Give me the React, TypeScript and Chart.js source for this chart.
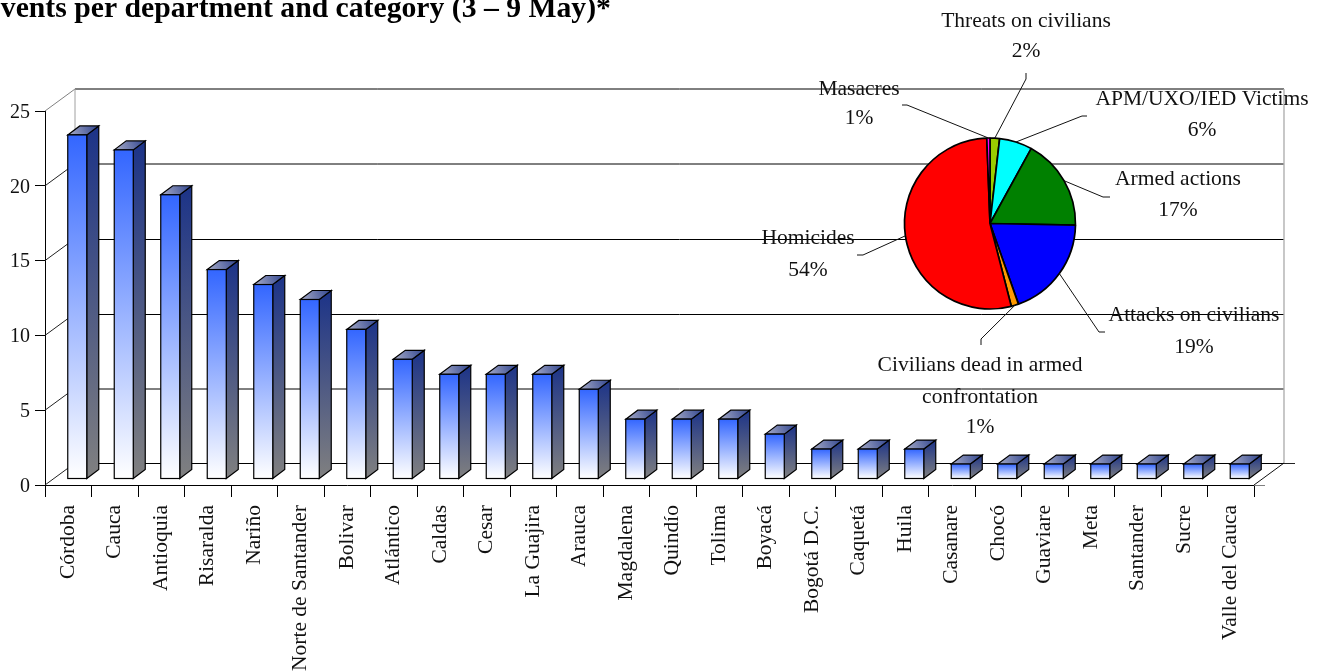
import React, { useEffect, useRef } from "react";
import { Chart, registerables } from "chart.js";

Chart.register(...registerables);

const departments = ["Córdoba", "Cauca", "Antioquia", "Risaralda", "Nariño", "Norte de Santander", "Bolivar", "Atlántico", "Caldas", "Cesar", "La Guajira", "Arauca", "Magdalena", "Quindío", "Tolima", "Boyacá", "Bogotá D.C.", "Caquetá", "Huila", "Casanare", "Chocó", "Guaviare", "Meta", "Santander", "Sucre", "Valle del Cauca"];
const eventCounts = [23, 22, 19, 14, 13, 12, 10, 8, 7, 7, 7, 6, 4, 4, 4, 3, 2, 2, 2, 1, 1, 1, 1, 1, 1, 1];
const yTicks = [0, 5, 10, 15, 20, 25];

const pieCategories = ["Threats on civilians", "APM/UXO/IED Victims", "Armed actions", "Attacks on civilians", "Civilians dead in armed confrontation", "Homicides", "Masacres"];
const pieShares = [1.8, 6.2, 17.3, 19.3, 1.4, 53.4, 0.6];
const piePercentLabels = ["2%", "6%", "17%", "19%", "1%", "54%", "1%"];
const pieColors = ["#99cc00", "#00ffff", "#008000", "#0000ff", "#ff9900", "#ff0000", "#ff00ff"];

const titleText = "Events per department and category (3 – 9 May)*";
const FONT = '"Liberation Serif", serif';

const W = 1327, H = 672;
const PLOT = { left: 45, right: 1254, top: 111, bottom: 485 };
const DEPTH = { x: 30, y: -22 };
const BAR_FRONT = { x: 9, y: -6 };
const BAR_SIDE = { x: 12, y: -9 };
const PIE = { x: 990, y: 223.5, r: 85.5 };

// label layout of the pie: text centre lines and leader elbow (elbow, stub end)
const pieLabelLayout = [
  { x: 1026, lines: [21, 51], text: ["Threats on civilians"], elbow: [1026, 79], end: [1026, 73] },
  { x: 1202, lines: [99, 130], text: ["APM/UXO/IED Victims"], elbow: [1082, 116], end: [1087, 116] },
  { x: 1178, lines: [179, 210], text: ["Armed actions"], elbow: [1103, 197], end: [1110, 197] },
  { x: 1194, lines: [315, 347], text: ["Attacks on civilians"], elbow: [1099, 332], end: [1105, 332] },
  { x: 980, lines: [365, 397, 427], text: ["Civilians dead in armed", "confrontation"], elbow: [981, 339], end: [981, 345] },
  { x: 808, lines: [238, 270], text: ["Homicides"], elbow: [863, 255], end: [857, 255] },
  { x: 859, lines: [89, 118], text: ["Masacres"], elbow: [907, 105], end: [902, 105] },
];

function line(ctx: CanvasRenderingContext2D, x1: number, y1: number, x2: number, y2: number, color: string, w = 1) {
  ctx.strokeStyle = color;
  ctx.lineWidth = w;
  ctx.beginPath();
  ctx.moveTo(x1, y1);
  ctx.lineTo(x2, y2);
  ctx.stroke();
}

const wallsPlugin = {
  id: "walls",
  beforeDatasetsDraw(chart: any) {
    const { ctx, scales } = chart;
    const { left, right, top, bottom } = chart.chartArea;
    const y = scales.y;
    ctx.save();
    yTicks.forEach((t) => {
      const py = y.getPixelForValue(t);
      const straddles = t === 25 || t === 20 || t === 5;
      const by = Math.round(py + DEPTH.y + 0.4) + (straddles ? 0 : 0.5);
      line(ctx, left, py, left + DEPTH.x, py + DEPTH.y, t === 25 ? "#808080" : "#222", 1);
      line(ctx, left + DEPTH.x, by, right + DEPTH.x, by, "#000", 1);
    });
    line(ctx, left + DEPTH.x, top + DEPTH.y, left + DEPTH.x, bottom + DEPTH.y, "#a0a0a0", 1);
    line(ctx, right + DEPTH.x, top + DEPTH.y, right + DEPTH.x, bottom + DEPTH.y, "#b0b0b0", 1.4);
    line(ctx, right, bottom, right + DEPTH.x, bottom + DEPTH.y, "#111", 1);
    line(ctx, right + DEPTH.x, bottom + DEPTH.y + 0.5, right + DEPTH.x + 11, bottom + DEPTH.y + 0.5, "#222", 1);
    line(ctx, right, bottom + 0.5, right + 11, bottom + 0.5, "#808080", 1);
    ctx.restore();
  },
};

const bars3dPlugin = {
  id: "bars3d",
  afterDatasetsDraw(chart: any) {
    const { ctx } = chart;
    const meta = chart.getDatasetMeta(0);
    ctx.save();
    ctx.lineJoin = "miter";
    meta.data.forEach((bar: any) => {
      const l = bar.x - bar.width / 2 + BAR_FRONT.x;
      const r = bar.x + bar.width / 2 + BAR_FRONT.x;
      const t = bar.y + BAR_FRONT.y;
      const b = bar.base + BAR_FRONT.y;
      const dx = BAR_SIDE.x, dy = BAR_SIDE.y;

      const front = ctx.createLinearGradient(0, t, 0, b);
      front.addColorStop(0, "#3366ff");
      front.addColorStop(1, "#ffffff");
      const side = ctx.createLinearGradient(0, t + dy, 0, b);
      side.addColorStop(0, "#1c3388");
      side.addColorStop(1, "#808080");
      const topFace = ctx.createLinearGradient(l, t, r + dx, t + dy);
      topFace.addColorStop(0, "#a9adc8");
      topFace.addColorStop(1, "#2f448f");

      ctx.strokeStyle = "#000";
      ctx.lineWidth = 1.2;

      ctx.fillStyle = side;
      ctx.beginPath();
      ctx.moveTo(r, t);
      ctx.lineTo(r + dx, t + dy);
      ctx.lineTo(r + dx, b + dy);
      ctx.lineTo(r, b);
      ctx.closePath();
      ctx.fill();
      ctx.stroke();

      ctx.fillStyle = topFace;
      ctx.beginPath();
      ctx.moveTo(l, t);
      ctx.lineTo(l + dx, t + dy);
      ctx.lineTo(r + dx, t + dy);
      ctx.lineTo(r, t);
      ctx.closePath();
      ctx.fill();
      ctx.stroke();

      ctx.fillStyle = front;
      ctx.fillRect(l, t, r - l, b - t);
      ctx.strokeRect(l, t, r - l, b - t);
    });
    ctx.restore();
  },
};

const titlePlugin = {
  id: "clippedTitle",
  afterDraw(chart: any) {
    const { ctx } = chart;
    ctx.save();
    ctx.font = `bold 29.7px ${FONT}`;
    ctx.fillStyle = "#000";
    ctx.textAlign = "left";
    ctx.textBaseline = "alphabetic";
    ctx.fillText(titleText, -19, 17);
    ctx.restore();
  },
};

const pieLabelsPlugin = {
  id: "pieLabels",
  afterDraw(chart: any) {
    const { ctx } = chart;
    const meta = chart.getDatasetMeta(0);
    ctx.save();
    ctx.font = `21.5px ${FONT}`;
    ctx.fillStyle = "#111";
    ctx.textAlign = "center";
    ctx.textBaseline = "middle";
    meta.data.forEach((arc: any, i: number) => {
      const layout = pieLabelLayout[i];
      const mid = (arc.startAngle + arc.endAngle) / 2;
      const sx = arc.x + Math.cos(mid) * arc.outerRadius;
      const sy = arc.y + Math.sin(mid) * arc.outerRadius;
      ctx.strokeStyle = "#111";
      ctx.lineWidth = 1;
      ctx.beginPath();
      ctx.moveTo(sx, sy);
      ctx.lineTo(layout.elbow[0], layout.elbow[1]);
      ctx.lineTo(layout.end[0], layout.end[1]);
      ctx.stroke();
      const rows = [...layout.text, piePercentLabels[i]];
      rows.forEach((row, k) => ctx.fillText(row, layout.x, layout.lines[k]));
    });
    ctx.restore();
  },
};

export default function App() {
  const barRef = useRef<HTMLCanvasElement>(null);
  const pieRef = useRef<HTMLCanvasElement>(null);

  useEffect(() => {
    const barChart = new Chart(barRef.current!, {
      type: "bar",
      data: {
        labels: departments,
        datasets: [{ label: "Events", data: eventCounts, backgroundColor: "rgba(0,0,0,0)", borderWidth: 0, barThickness: 19 }],
      },
      plugins: [wallsPlugin, bars3dPlugin, titlePlugin],
      options: {
        responsive: false,
        animation: false,
        devicePixelRatio: 1,
        layout: { padding: { left: 0, top: PLOT.top, right: W - PLOT.right, bottom: 0 } },
        plugins: { legend: { display: false }, tooltip: { enabled: false }, title: { display: false } },
        scales: {
          x: {
            afterFit(s: any) {
              s.height = H - PLOT.bottom;
              s.paddingLeft = 0;
              s.paddingRight = 0;
            },
            grid: { drawOnChartArea: false, tickLength: 12, color: "#000", offset: true },
            border: { color: "#000" },
            ticks: { autoSkip: false, minRotation: 90, maxRotation: 90, padding: 8, color: "#111", font: { family: FONT, size: 21.5 } },
          },
          y: {
            min: 0,
            max: 25,
            afterFit(s: any) {
              s.width = PLOT.left;
              s.paddingTop = 0;
              s.paddingBottom = 0;
            },
            afterBuildTicks(s: any) {
              s.ticks = yTicks.map((value) => ({ value }));
            },
            grid: { drawOnChartArea: false, tickLength: 10, color: "#000" },
            border: { color: "#000" },
            ticks: { padding: 5, labelOffset: 1.5, color: "#111", font: { family: FONT, size: 20 } },
          },
        },
      },
    } as any);

    const pieChart = new Chart(pieRef.current!, {
      type: "pie",
      data: {
        labels: pieCategories,
        datasets: [{ data: pieShares, backgroundColor: pieColors, borderColor: "#000", borderWidth: 1.7, radius: PIE.r }],
      },
      plugins: [pieLabelsPlugin],
      options: {
        responsive: false,
        animation: false,
        devicePixelRatio: 1,
        layout: { padding: { left: PIE.x - 100, right: W - PIE.x - 100, top: PIE.y - 100, bottom: H - PIE.y - 100 } },
        plugins: { legend: { display: false }, tooltip: { enabled: false } },
      },
    } as any);

    return () => {
      barChart.destroy();
      pieChart.destroy();
    };
  }, []);

  const canvasStyle: React.CSSProperties = { position: "absolute", left: 0, top: 0, display: "block" };
  return (
    <div style={{ position: "fixed", left: 0, top: 0, width: W, height: H, background: "#fff", overflow: "hidden" }}>
      <canvas ref={barRef} width={W} height={H} style={canvasStyle} />
      <canvas ref={pieRef} width={W} height={H} style={canvasStyle} />
    </div>
  );
}
